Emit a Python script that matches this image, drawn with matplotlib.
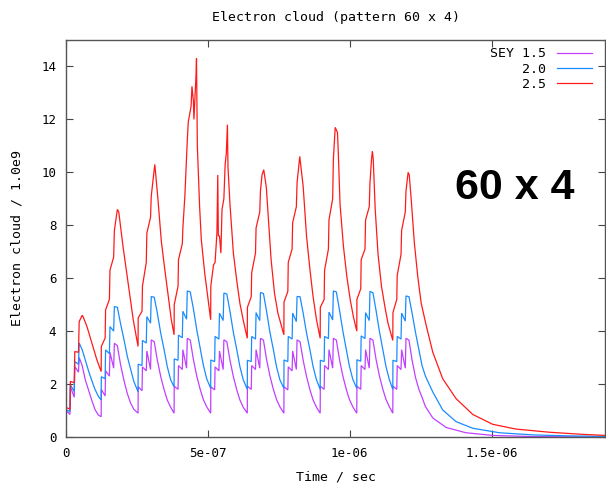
import matplotlib
matplotlib.use("Agg")
import matplotlib.pyplot as plt
import numpy as np

# bunch train starts (ns) and vertex offsets inside each train (ns)
train_start_ns = [0, 124, 254, 381, 510, 639, 768, 896, 1025, 1152]
step_offset_ns = [0, 0.5, 14, 15.5, 29, 31, 44, 46.5, 57, 68, 80, 92, 103, 115]

# SEY 1.5 : level at each vertex of every train (1e9 electrons)
sey15_levels = [
    [1.0, 1.0, 0.85, 1.9, 1.5, 2.66, 2.45, 3.0, 2.7, 2.16, 1.75, 1.35, 1.02, 0.82],
    [0.77, 1.8, 1.55, 2.5, 2.3, 3.2, 2.6, 3.54, 3.45, 2.75, 2.15, 1.65, 1.3, 1.05],
    [0.9, 1.9, 1.75, 2.65, 2.5, 3.25, 2.55, 3.67, 3.6, 2.9, 2.28, 1.78, 1.4, 1.12],
    [0.9, 1.92, 1.8, 2.7, 2.55, 3.3, 2.6, 3.73, 3.66, 2.93, 2.3, 1.8, 1.42, 1.14],
    [0.9, 1.9, 1.78, 2.65, 2.5, 3.25, 2.55, 3.67, 3.6, 2.9, 2.28, 1.78, 1.4, 1.12],
    [0.9, 1.92, 1.8, 2.7, 2.55, 3.3, 2.6, 3.73, 3.66, 2.93, 2.3, 1.8, 1.42, 1.14],
    [0.9, 1.9, 1.78, 2.65, 2.5, 3.25, 2.55, 3.67, 3.6, 2.9, 2.28, 1.78, 1.4, 1.12],
    [0.9, 1.92, 1.8, 2.7, 2.55, 3.3, 2.6, 3.73, 3.66, 2.93, 2.3, 1.8, 1.42, 1.14],
    [0.9, 1.92, 1.8, 2.7, 2.55, 3.3, 2.6, 3.73, 3.66, 2.93, 2.3, 1.8, 1.42, 1.14],
    [0.9, 1.92, 1.8, 2.7, 2.55, 3.3, 2.6, 3.73, 3.66, 2.9, 2.25, 1.8, 1.5, 1.15],
]
sey15_tail_ns = [1293, 1340, 1410, 1504, 1645, 1901]
sey15_tail = [0.72, 0.36, 0.16, 0.06, 0.015, 0.0]

# SEY 2.0
sey20_levels = [
    [1.02, 1.02, 0.97, 1.97, 1.72, 2.85, 2.75, 3.55, 3.3, 2.91, 2.48, 2.1, 1.78, 1.52],
    [1.40, 2.28, 2.2, 3.29, 3.15, 4.17, 4.0, 4.93, 4.9, 4.3, 3.7, 3.05, 2.6, 2.1],
    [1.71, 2.75, 2.7, 3.65, 3.55, 4.55, 4.3, 5.31, 5.28, 4.68, 3.92, 3.29, 2.66, 2.16],
    [1.90, 2.95, 2.9, 3.85, 3.75, 4.75, 4.45, 5.52, 5.48, 4.85, 4.05, 3.35, 2.72, 2.2],
    [1.84, 2.91, 2.85, 3.8, 3.7, 4.68, 4.4, 5.44, 5.4, 4.75, 3.95, 3.3, 2.66, 2.16],
    [1.80, 2.9, 2.85, 3.8, 3.7, 4.7, 4.4, 5.46, 5.42, 4.75, 3.95, 3.3, 2.66, 2.16],
    [1.84, 2.91, 2.85, 3.8, 3.7, 4.68, 4.36, 5.31, 5.3, 4.68, 3.92, 3.29, 2.66, 2.16],
    [1.80, 2.9, 2.85, 3.8, 3.72, 4.72, 4.42, 5.52, 5.48, 4.8, 4.0, 3.32, 2.68, 2.18],
    [1.84, 2.92, 2.86, 3.82, 3.72, 4.7, 4.4, 5.5, 5.45, 4.78, 3.98, 3.3, 2.66, 2.16],
    [1.80, 2.9, 2.85, 3.8, 3.7, 4.68, 4.38, 5.33, 5.3, 4.68, 3.95, 3.3, 2.7, 2.3],
]
sey20_tail_ns = [1293, 1328, 1375, 1434, 1528, 1645, 1762, 1901]
sey20_tail = [1.7, 1.02, 0.58, 0.33, 0.16, 0.08, 0.045, 0.02]

# SEY 2.5 (irregular spikes, so times are listed per point)
sey25_ns = [
    0, 14, 15.5, 29, 31, 44, 46.5, 57, 60, 74, 91.5, 109,
    124, 124.5, 138, 139.5, 153, 155, 168, 170.5, 181, 186, 201, 219, 237,
    254, 254.5, 268, 269.5, 283, 285, 298, 300.5, 313, 324, 336, 348, 359, 371,
    381, 381.5, 395, 396.5, 410, 412, 419, 425, 427.5, 431, 436, 441, 444, 449,
    451, 458, 460, 463, 471, 477, 489, 501,
    510, 510.5, 520, 525.5, 532, 535, 537, 541, 546, 550, 556.5, 561, 565, 569,
    571, 578, 590, 602, 613, 625,
    639, 639.5, 653, 654.5, 668, 670, 683, 685.5, 691, 697, 706, 712, 723, 735, 747,
    768, 768.5, 782, 783.5, 797, 799, 812, 814.5, 824, 836, 848, 860, 871, 883,
    896, 896.5, 910, 911.5, 925, 927, 940, 942.5, 949, 957, 960, 966, 978, 990,
    1002, 1013,
    1025, 1025.5, 1039, 1040.5, 1054, 1056, 1069, 1071.5, 1077, 1080, 1083, 1090,
    1100, 1112, 1124, 1135,
    1152, 1152.5, 1166, 1167.5, 1181, 1183, 1196, 1198.5, 1206, 1210, 1217, 1228,
    1240, 1252, 1270, 1293, 1328, 1375, 1434, 1504, 1586, 1704, 1821, 1901,
]
sey25 = [
    1.12, 1.05, 2.1, 2.05, 3.23, 3.2, 4.36, 4.6, 4.55, 4.17, 3.54, 2.91,
    2.47, 3.42, 3.74, 4.8, 5.2, 6.3, 6.8, 7.8, 8.6, 8.5, 7.2, 5.8, 4.43,
    3.42, 4.5, 4.75, 5.7, 6.6, 7.7, 8.3, 9.1, 10.3, 9.0, 7.4, 6.35, 5.45, 4.45,
    3.86, 5.0, 5.7, 6.7, 7.3, 7.9, 9.1, 10.6, 11.2, 11.9, 12.2, 12.5, 13.25, 12.7,
    12.0, 13.6, 14.3, 11.0, 8.7, 7.45, 6.19, 5.18,
    4.43, 5.7, 6.5, 6.6, 7.7, 9.9, 7.6, 7.6, 6.95, 8.6, 9.0, 10.3, 10.7, 11.8,
    10.2, 8.8, 6.95, 5.9, 5.05, 4.4,
    3.73, 4.9, 5.3, 6.2, 6.95, 7.9, 8.5, 9.3, 9.9, 10.1, 9.45, 8.46, 6.7, 5.43, 4.68,
    3.86, 5.1, 5.5, 6.6, 7.1, 8.1, 8.7, 9.6, 10.6, 9.47, 7.58, 6.32, 5.3, 4.43,
    3.73, 4.9, 5.2, 6.3, 7.1, 8.2, 9.0, 10.5, 11.7, 11.5, 10.7, 8.8, 7.2, 6.06,
    5.18, 4.55,
    4.0, 5.2, 5.6, 6.7, 7.1, 8.2, 8.7, 9.6, 10.5, 10.8, 10.5, 8.6,
    6.9, 5.7, 4.93, 4.3,
    3.65, 4.7, 5.2, 6.1, 6.9, 7.8, 8.5, 9.3, 10.0, 9.9, 8.96, 7.33,
    6.06, 5.06, 4.2, 3.2, 2.2, 1.45, 0.85, 0.48, 0.3, 0.18, 0.1, 0.06,
]

series_labels = ["SEY 1.5", "    2.0", "    2.5"]
series_colors = ["#c040ff", "#1a8cff", "#ff1a1a"]


def train_series(levels, tail_ns, tail_vals):
    # lay the per-train levels onto the shared bunch timing
    t, v = [], []
    for start, lev in zip(train_start_ns, levels):
        t += [start + o for o in step_offset_ns]
        v += lev
    t += tail_ns
    v += tail_vals
    return np.array(t) * 1e-9, np.array(v)


mono = "DejaVu Sans Mono"
plt.rcParams["font.family"] = mono
plt.rcParams["font.size"] = 9

fig = plt.figure(figsize=(6.06, 4.83), dpi=100)
ax = fig.add_axes([66 / 606, 1 - 437 / 483, 539 / 606, 397 / 483])

t15, v15 = train_series(sey15_levels, sey15_tail_ns, sey15_tail)
t20, v20 = train_series(sey20_levels, sey20_tail_ns, sey20_tail)
t25, v25 = np.array(sey25_ns) * 1e-9, np.array(sey25)

lines = []
for (t, v), c in zip([(t15, v15), (t20, v20), (t25, v25)], series_colors):
    ln, = ax.plot(t, v, color=c, lw=0.9, solid_joinstyle="miter")
    lines.append(ln)

ax.set_xlim(0, 1.9e-6)
ax.set_ylim(0, 15)
ax.set_xticks([0, 5e-7, 1e-6, 1.5e-6])
ax.set_xticklabels(["0", "5e-07", "1e-06", "1.5e-06"])
ax.set_yticks(range(0, 15, 2))
ax.tick_params(direction="in", top=True, right=True, length=5, width=0.8,
               color="#444444", labelsize=9, pad=7)

for s in ax.spines.values():
    s.set_color("#555555")
    s.set_linewidth(1.0)

ax.set_title("Electron cloud (pattern 60 x 4)", fontsize=9.5, pad=14)
ax.set_xlabel("Time / sec", fontsize=9.5, labelpad=8)
ax.set_ylabel("Electron cloud / 1.0e9", fontsize=9.5, labelpad=13)

# legend sits a little in from the right border
ax.legend(lines, series_labels, loc="upper right", bbox_to_anchor=(0.99, 1.0),
          frameon=False, markerfirst=False,
          handlelength=2.7, handletextpad=0.8, labelspacing=0.18,
          borderaxespad=0.15, fontsize=9.5)

ax.text(0.833, 0.627, "60 x 4", transform=ax.transAxes, ha="center", va="center",
        fontsize=31, fontweight="bold", family="Liberation Sans")

fig.savefig("out.png", dpi=100)
